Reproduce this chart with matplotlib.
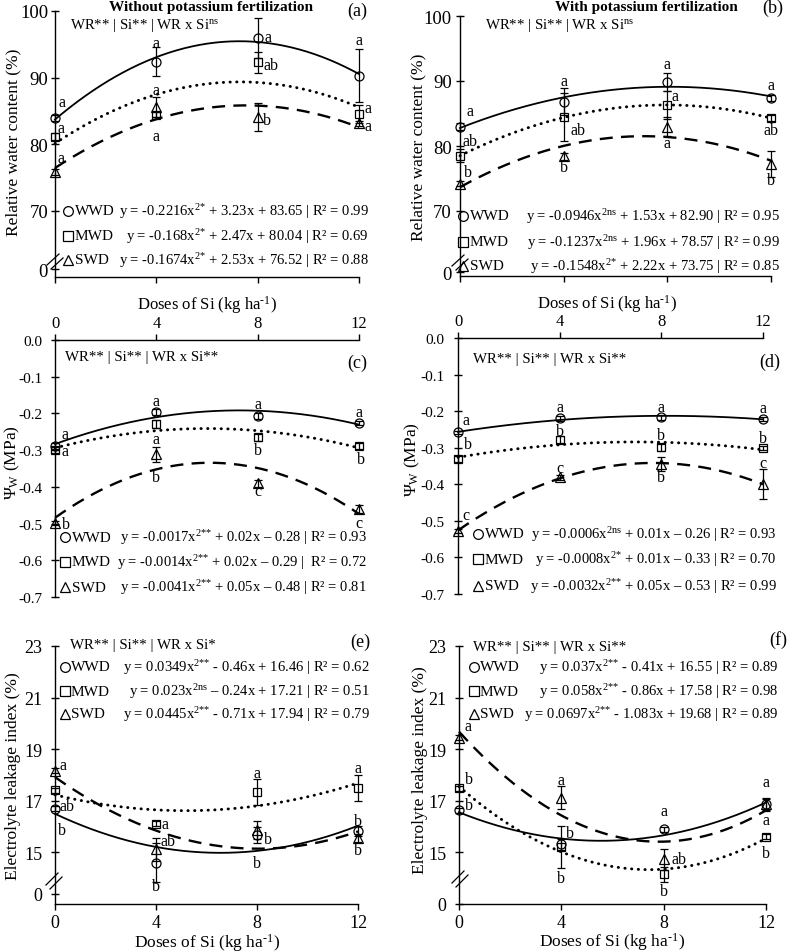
import matplotlib.pyplot as plt
import numpy as np

plt.rcParams['font.family'] = ['Liberation Serif', 'DejaVu Serif']
plt.rcParams['mathtext.fontset'] = 'custom'
plt.rcParams['mathtext.rm'] = 'Liberation Serif'
plt.rcParams['mathtext.it'] = 'Liberation Serif:italic'
plt.rcParams['mathtext.bf'] = 'Liberation Serif:bold'

W, H = 787, 953

DOSES = [0, 4, 8, 12]
SERIES = ['WWD', 'MWD', 'SWD']

# relative water content (%)
RWC_NOK = [[83.9, 92.4, 96.0, 90.3], [81.1, 84.4, 92.3, 84.5], [75.8, 85.5, 84.0, 83.1]]
RWC_NOK_ERR = [[0.4, 2.2, 3.0, 4.0], [0.5, 0.4, 1.6, 1.3], [0.5, 1.5, 2.1, 0.4]]
RWC_NOK_LET = [['a', 'a', 'a', 'a'], ['a', 'a', 'ab', 'a'], ['a', 'a', 'b', 'a']]
RWC_K = [[83.0, 86.8, 89.8, 87.4], [78.5, 84.4, 86.3, 84.3], [74.2, 78.4, 83.0, 77.2]]
RWC_K_ERR = [[0.5, 2.1, 1.4, 0.5], [1.0, 3.7, 2.1, 0.5], [0.4, 0.5, 1.5, 2.0]]
RWC_K_LET = [['a', 'a', 'a', 'a'], ['ab', 'ab', 'a', 'ab'], ['b', 'b', 'a', 'b']]

# leaf water potential (MPa)
PSI_NOK = [[-0.288, -0.197, -0.206, -0.226], [-0.300, -0.229, -0.265, -0.288],
           [-0.498, -0.311, -0.390, -0.460]]
PSI_NOK_ERR = [[0.008, 0.008, 0.008, 0.006], [0.008, 0.01, 0.01, 0.008],
               [0.006, 0.02, 0.01, 0.01]]
PSI_NOK_LET = [['a', 'a', 'a', 'a'], ['a', 'a', 'b', 'b'], ['b', 'b', 'c', 'c']]
PSI_K = [[-0.258, -0.220, -0.217, -0.221], [-0.331, -0.278, -0.299, -0.301],
         [-0.527, -0.381, -0.345, -0.399]]
PSI_K_ERR = [[0.005, 0.006, 0.006, 0.005], [0.008, 0.01, 0.01, 0.006],
             [0.006, 0.006, 0.02, 0.04]]
PSI_K_LET = [['a', 'a', 'a', 'a'], ['b', 'b', 'b', 'b'], ['c', 'c', 'b', 'c']]
PSI_TICKS = [-0.7, -0.6, -0.5, -0.4, -0.3, -0.2, -0.1, 0.0]
PSI_LABELS = ['-0.7', '-0.6', '-0.5', '-0.4', '-0.3', '-0.2', '-0.1', '0.0']

# electrolyte leakage index (%)
ELI_NOK = [[16.70, 14.60, 15.67, 15.83], [17.41, 16.11, 17.34, 17.51], [18.16, 15.12, 15.87, 15.57]]
ELI_NOK_ERR = [[0.1, 0.75, 0.3, 0.2], [0.1, 0.1, 0.5, 0.5], [0.1, 0.45, 0.35, 0.15]]
ELI_NOK_LET = [['b', 'b', 'b', 'b'], ['ab', 'a', 'a', 'a'], ['a', 'ab', 'b', 'b']]
ELI_K = [[16.63, 15.31, 15.89, 16.86], [17.49, 15.22, 14.15, 15.61], [19.45, 17.12, 14.73, 16.86]]
ELI_K_ERR = [[0.1, 0.2, 0.1, 0.25], [0.1, 0.82, 0.3, 0.1], [0.1, 0.45, 0.4, 0.2]]
ELI_K_LET = [['b', 'b', 'a', 'a'], ['b', 'b', 'b', 'b'], ['a', 'a', 'ab', 'a']]

HEADERS = ['WR** | Si** | WR x Si$^{\\text{ns}}$', 'WR** | Si** | WR x Si$^{\\text{ns}}$',
           'WR** | Si** | WR x Si**', 'WR** | Si** | WR x Si**',
           'WR** | Si** | WR x Si*', 'WR** | Si** | WR x Si**']

EQ_A = ['y = -0.2216x$^{\\text{2*}}$ + 3.23x + 83.65 | R² = 0.99',
        'y = -0.168x$^{\\text{2*}}$ + 2.47x + 80.04 | R² = 0.69',
        'y = -0.1674x$^{\\text{2*}}$ + 2.53x + 76.52 | R² = 0.88']
EQ_B = ['y = -0.0946x$^{\\text{2ns}}$ + 1.53x + 82.90 | R² = 0.95',
        'y = -0.1237x$^{\\text{2ns}}$ + 1.96x + 78.57 | R² = 0.99',
        'y = -0.1548x$^{\\text{2*}}$ + 2.22x + 73.75 | R² = 0.85']
EQ_C = ['y = -0.0017x$^{\\text{2**}}$ + 0.02x – 0.28 | R² = 0.93',
        'y = -0.0014x$^{\\text{2**}}$ + 0.02x – 0.29 |  R² = 0.72',
        'y = -0.0041x$^{\\text{2**}}$ + 0.05x – 0.48 | R² = 0.81']
EQ_D = ['y = -0.0006x$^{\\text{2ns}}$ + 0.01x – 0.26 | R² = 0.93',
        'y = -0.0008x$^{\\text{2*}}$ + 0.01x – 0.33 | R² = 0.70',
        'y = -0.0032x$^{\\text{2**}}$ + 0.05x – 0.53 | R² = 0.99']
EQ_E = ['y = 0.0349x$^{\\text{2**}}$ - 0.46x + 16.46 | R² = 0.62',
        'y = 0.023x$^{\\text{2ns}}$ – 0.24x + 17.21 | R² = 0.51',
        'y = 0.0445x$^{\\text{2**}}$ - 0.71x + 17.94 | R² = 0.79']
EQ_F = ['y = 0.037x$^{\\text{2**}}$ - 0.41x + 16.55 | R² = 0.89',
        'y = 0.058x$^{\\text{2**}}$ - 0.86x + 17.58 | R² = 0.98',
        'y = 0.0697x$^{\\text{2**}}$ - 1.083x + 19.68 | R² = 0.89']

XLABEL = 'Doses of Si (kg ha$^{\\text{-1}}$)'

# letter offsets in pixels (dx, dy) from each marker
OFF_A = [[(7, 16), (0, 19), (10, 1), (0, 36)], [(6, 9), (0, -21), (13, -3), (9, 6)],
         [(6, 14), (0, 17), (9, -3), (9, -3)]]
OFF_B = [[(10, 16), (0, 21), (0, 18), (0, 13)], [(10, 15), (14, -13), (8, 9), (0, -12)],
         [(8, 12), (0, -11), (0, -16), (0, -16)]]
OFF_C = [[(10, 12), (0, 11), (0, 12), (0, 11)], [(10, -1), (0, -15), (0, -13), (2, -13)],
         [(11, -1), (0, -23), (0, -8), (0, -14)]]
OFF_D = [[(8, 12), (0, 11), (0, 10), (0, 11)], [(10, 15), (0, 9), (0, 12), (0, 10)],
         [(8, 16), (0, 9), (0, -13), (0, 21)]]
OFF_E = [[(7, -21), (0, -23), (11, -4), (0, 10)], [(12, -16), (9, 0), (0, 19), (0, 20)],
         [(8, 6), (12, 8), (0, -33), (0, -12)]]
OFF_F = [[(10, 5), (9, 11), (0, 18), (0, 22)], [(10, 9), (0, -31), (0, -17), (0, -16)],
         [(9, 12), (0, 18), (15, 0), (0, -16)]]

MARKERS = ['o', 's', '^']
MSIZE = [6.5, 6, 6.5]
LSTYLE = [dict(ls='-', lw=1.3),
          dict(ls=(0, (0.1, 2.2)), lw=2.1, dash_capstyle='round'),
          dict(ls=(0, (5.5, 3.5)), lw=1.7)]

fig = plt.figure(figsize=(W / 100, H / 100), dpi=100)


def box(left, right, top, bottom):
    return [left / W, 1 - bottom / H, (right - left) / W, (bottom - top) / H]


def ftext(x, y, s, **kw):
    kw.setdefault('va', 'center')
    return fig.text(x / W, 1 - y / H, s, **kw)


def fline(x0, y0, x1, y1):
    fig.add_artist(plt.Line2D([x0 / W, x1 / W], [1 - y0 / H, 1 - y1 / H],
                              transform=fig.transFigure, color='k', lw=0.9))


def fmark(x, y, m, ms):
    fig.add_artist(plt.Line2D([x / W], [1 - y / H], transform=fig.transFigure, marker=m,
                              ms=ms, mfc='none', mec='k', mew=0.9, ls='none'))


def panel(pos, means, errs, letters, offs, top_axis=False):
    ax = fig.add_axes(pos)
    xs = np.linspace(0, 12, 200)
    for i in range(3):
        coef = np.polyfit(DOSES, means[i], 2)
        ax.plot(xs, np.polyval(coef, xs), color='k', clip_on=False, **LSTYLE[i])
        eb = ax.errorbar(DOSES, means[i], yerr=errs[i], fmt=MARKERS[i], ms=MSIZE[i],
                         mfc='none', mec='k', mew=0.9, ecolor='k', elinewidth=0.9,
                         capsize=3, capthick=0.9)
        for art in eb.get_children():
            art.set_clip_on(False)
        for x, y, lt, (dx, dy) in zip(DOSES, means[i], letters[i], offs[i]):
            ax.annotate(lt, (x, y), xytext=(dx, dy), textcoords='offset pixels',
                        ha='center', va='center', fontsize=11.5)
    ax.set_xlim(0, 12)
    ax.set_xticks(DOSES)
    for s in ['right', 'top', 'bottom']:
        ax.spines[s].set_visible(False)
    if top_axis:
        ax.spines['top'].set_visible(True)
        ax.xaxis.tick_top()
    else:
        ax.spines['bottom'].set_visible(True)
    for s in ax.spines.values():
        s.set_linewidth(1.0)
    ax.tick_params(axis='y', direction='inout', length=6, width=1.0)
    ax.tick_params(axis='x', direction='out', length=4, width=1.0)
    ax.set_facecolor('none')
    return ax


def legend_rows(xm, xn, xe, ys, eqs):
    for i in range(3):
        fmark(xm, ys[i], MARKERS[i], MSIZE[i] + 0.5)
        ftext(xn, ys[i], SERIES[i], ha='left', fontsize=11)
        ftext(xe, ys[i], eqs[i], ha='right', fontsize=10.5)


# (a)
ax = panel(box(55, 359, 12, 278), RWC_NOK, RWC_NOK_ERR, RWC_NOK_LET, OFF_A)
ax.set_ylim(60, 100)
ax.set_yticks([61.2, 70, 80, 90, 100], ['0', '70', '80', '90', '100'])
ax.tick_params(axis='y', labelsize=13.5, pad=2)
ax.set_xticklabels([])
ftext(211, 7, 'Without potassium fertilization', ha='center', fontsize=11, fontweight='bold')
ftext(357, 11, '(a)', ha='center', fontsize=13)
ftext(70, 25, HEADERS[0], ha='left', fontsize=10.7)
legend_rows(68, 75, 369, [212, 237, 261], EQ_A)
ftext(13, 142, 'Relative water content (%)', ha='center', rotation=90, fontsize=12.5)
fline(47, 266, 59, 255)
fline(51, 270, 63, 259)

# (b)
ax = panel(box(460, 771, 17, 277), RWC_K, RWC_K_ERR, RWC_K_LET, OFF_B)
ax.set_ylim(60, 100)
ax.set_yticks([60.6, 70, 80, 90, 100], ['0', '70', '80', '90', '100'])
ax.tick_params(axis='y', labelsize=13.5, pad=3)
ax.set_xticklabels([])
ftext(646, 7, 'With potassium fertilization', ha='center', fontsize=11, fontweight='bold')
ftext(773, 8, '(b)', ha='center', fontsize=13)
ftext(485, 25, HEADERS[1], ha='left', fontsize=10.7)
legend_rows(463, 470, 780, [217, 243, 267], EQ_B)
ftext(418, 147, 'Relative water content (%)', ha='center', rotation=90, fontsize=12.5)
fline(452, 267, 464, 256)
fline(456, 271, 468, 260)

# (c)
ax = panel(box(55, 359, 341, 598), PSI_NOK, PSI_NOK_ERR, PSI_NOK_LET, OFF_C, top_axis=True)
ax.set_ylim(-0.7, 0)
ax.set_yticks(PSI_TICKS, PSI_LABELS)
ax.tick_params(axis='y', labelsize=11, pad=6)
ax.tick_params(axis='x', labelsize=12, pad=2.5)
ftext(207, 305, XLABEL, ha='center', fontsize=12)
ftext(357, 363, '(c)', ha='center', fontsize=13)
ftext(65, 358, HEADERS[2], ha='left', fontsize=10.7)
legend_rows(65, 72, 367, [538, 563, 588], EQ_C)
ftext(12, 463, '$\\Psi_\\mathrm{W}$ (MPa)', ha='center', rotation=90, fontsize=12.5)

# (d)
ax = panel(box(458, 763, 339, 595), PSI_K, PSI_K_ERR, PSI_K_LET, OFF_D, top_axis=True)
ax.set_ylim(-0.7, 0)
ax.set_yticks(PSI_TICKS, PSI_LABELS)
ax.tick_params(axis='y', labelsize=11, pad=7)
ax.tick_params(axis='x', labelsize=12, pad=2.5)
ftext(607, 304, XLABEL, ha='center', fontsize=12)
ftext(770, 362, '(d)', ha='center', fontsize=13)
ftext(473, 360, HEADERS[3], ha='left', fontsize=10.7)
legend_rows(478, 485, 777, [535, 560, 587], EQ_D)
ftext(412, 460, '$\\Psi_\\mathrm{W}$ (MPa)', ha='center', rotation=90, fontsize=12.5)

# (e)
ax = panel(box(55, 358, 647, 905), ELI_NOK, ELI_NOK_ERR, ELI_NOK_LET, OFF_E)
ax.set_ylim(13, 23)
ax.set_yticks([13.4, 15, 17, 19, 21, 23], ['0', '15', '17', '19', '21', '23'])
ax.tick_params(axis='y', labelsize=13, pad=6)
ax.tick_params(axis='x', labelsize=13, pad=3)
ftext(207, 943, XLABEL, ha='center', fontsize=12.5)
ftext(360, 642, '(e)', ha='center', fontsize=13)
ftext(70, 645, HEADERS[4], ha='left', fontsize=10.7)
legend_rows(65, 71, 370, [668, 692, 715], EQ_E)
ftext(13, 776, 'Electrolyte leakage index (%)', ha='center', rotation=90, fontsize=12.5)
fline(46, 886, 58, 874)
fline(50, 890, 62, 878)

# (f)
ax = panel(box(459, 766, 647, 905), ELI_K, ELI_K_ERR, ELI_K_LET, OFF_F)
ax.set_ylim(13, 23)
ax.set_yticks([13, 15, 17, 19, 21, 23], ['0', '15', '17', '19', '21', '23'])
ax.tick_params(axis='y', labelsize=13, pad=6)
ax.tick_params(axis='x', labelsize=13, pad=3)
ftext(612, 942, XLABEL, ha='center', fontsize=12.5)
ftext(778, 640, '(f)', ha='center', fontsize=13)
ftext(473, 648, HEADERS[5], ha='left', fontsize=10.7)
legend_rows(474, 480, 778, [668, 692, 715], EQ_F)
ftext(420, 770, 'Electrolyte leakage index (%)', ha='center', rotation=90, fontsize=12.5)
fline(452, 884, 464, 872)
fline(456, 888, 468, 876)

fig.savefig('out.png', dpi=100)
